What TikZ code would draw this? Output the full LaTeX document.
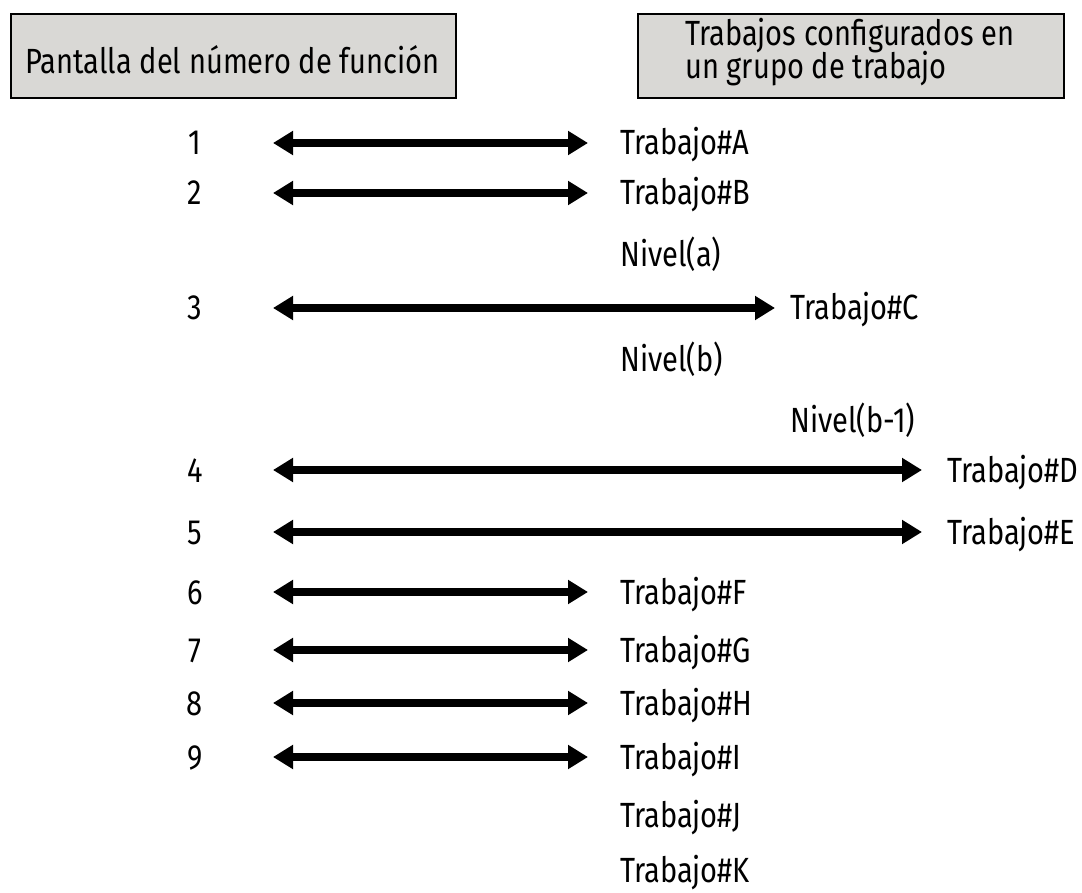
\documentclass[tikz,border=0pt]{standalone}
\usepackage{fontspec}
\setmainfont{Fira Sans}[FakeStretch=0.83]
\usetikzlibrary{arrows.meta}
\definecolor{boxgray}{RGB}{217,216,213}
\tikzset{
  hdrbox/.style={draw=black, line width=2pt, fill=boxgray},
  txt/.style={inner sep=0pt, font=\fontsize{35}{33}\selectfont},
  lbl/.style={txt, anchor=base west},
  num/.style={txt, anchor=base},
  arr/.style={line width=8pt, {Triangle[length=20pt,width=23pt]}-{Triangle[length=20pt,width=23pt]}}
}
\begin{document}
\begin{tikzpicture}[x=1pt,y=-1pt]
\useasboundingbox (0,0) rectangle (1082,893);
% header boxes
\node[hdrbox, minimum width=445pt, minimum height=84pt, anchor=north west, inner sep=0pt] (hdrA) at (10,13) {};
\node[txt, anchor=base] (hdrAtext) at (232.5,74) {Pantalla del número de función};
\node[hdrbox, minimum width=426pt, minimum height=84pt, anchor=north west, inner sep=0pt] (hdrB) at (637,13) {};
\node[lbl] (hdrBtext1) at (685,46) {Trabajos configurados en};
\node[lbl] (hdrBtext2) at (685,79) {un grupo de trabajo};
% numbers
\node[num] (n1) at (195,155) {1};
\node[num] (n2) at (195,205) {2};
\node[num] (n3) at (195,320) {3};
\node[num] (n4) at (195,482) {4};
\node[num] (n5) at (195,544) {5};
\node[num] (n6) at (195,604) {6};
\node[num] (n7) at (195,662) {7};
\node[num] (n8) at (195,715) {8};
\node[num] (n9) at (195,769) {9};
% labels
\node[lbl] (jA) at (620,155) {Trabajo\#A};
\node[lbl] (jB) at (620,205) {Trabajo\#B};
\node[lbl] (lva) at (620,267) {Nivel(a)};
\node[lbl] (jC) at (790,320) {Trabajo\#C};
\node[lbl] (lvb) at (620,372) {Nivel(b)};
\node[lbl] (lvb1) at (790,432) {Nivel(b-1)};
\node[lbl] (jD) at (947,482) {Trabajo\#D};
\node[lbl] (jE) at (947,544) {Trabajo\#E};
\node[lbl] (jF) at (620,604) {Trabajo\#F};
\node[lbl] (jG) at (620,662) {Trabajo\#G};
\node[lbl] (jH) at (620,715) {Trabajo\#H};
\node[lbl] (jI) at (620,769) {Trabajo\#I};
\node[lbl] (jJ) at (620,827) {Trabajo\#J};
\node[lbl] (jK) at (620,882) {Trabajo\#K};
% arrow end points
\coordinate (s1) at (273,143); \coordinate (e1) at (588,143);
\coordinate (s2) at (273,193); \coordinate (e2) at (588,193);
\coordinate (s3) at (273,308); \coordinate (e3) at (775,308);
\coordinate (s4) at (273,470); \coordinate (e4) at (922,470);
\coordinate (s5) at (273,532); \coordinate (e5) at (922,532);
\coordinate (s6) at (273,592); \coordinate (e6) at (588,592);
\coordinate (s7) at (273,650); \coordinate (e7) at (588,650);
\coordinate (s8) at (273,703); \coordinate (e8) at (588,703);
\coordinate (s9) at (273,757); \coordinate (e9) at (588,757);
\foreach \i in {1,...,9} { \draw[arr] (s\i) -- (e\i); }
\end{tikzpicture}
\end{document}
